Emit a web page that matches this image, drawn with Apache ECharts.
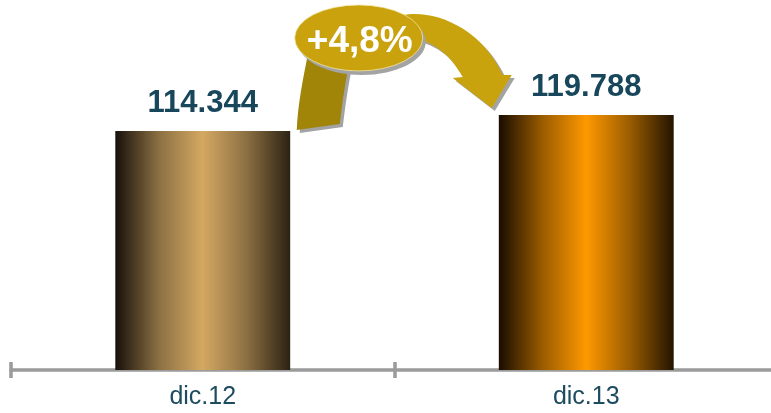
<!DOCTYPE html>
<html>
<head>
<meta charset="utf-8">
<script src="https://cdn.jsdelivr.net/npm/echarts@6/dist/echarts.min.js"></script>
<style>
  html, body { margin: 0; padding: 0; background: #fff; }
  #main { width: 771px; height: 413px; }
</style>
</head>
<body>
<div id="main"></div>
<script>
const categories = ['dic.12', 'dic.13'];
const values = [114344, 119788];

// cylinder-like shading per bar
const barGradients = [
  ['#17110a', '#8c7043', '#d4a862', '#8c7043', '#2c2213'],
  ['#190c00', '#9a5c00', '#ff9900', '#9a5c00', '#231300']
];

const fmt = v => String(v).replace(/\B(?=(\d{3})+(?!\d))/g, '.');
const growth = ((values[1] / values[0] - 1) * 100).toFixed(1).replace('.', ',');

// arrow pieces, local coords relative to the top centre of the first bar
const legPath = 'M94,-1 L137,-7 C140,-31 142,-46 147,-71 L105,-76 C100,-51 95,-26 94,-1 Z';
const arrowPath = 'M197,-115 C227,-123 277,-106 300,-56 L309,-56 L289,-23 L250,-53 L260,-54 C249,-73 237,-86 212,-93 Z';
echarts.graphic.registerShape('growthLeg', echarts.graphic.extendPath(legPath, {}));
echarts.graphic.registerShape('growthArrow', echarts.graphic.extendPath(arrowPath, {}));

const chart = echarts.init(document.getElementById('main'));

const tickStyle = { color: '#9b9b9b', width: 3.5 };

chart.setOption({
  animation: false,
  grid: { left: 11, right: -7, top: 10, bottom: 43, outerBoundsMode: 'none' },
  xAxis: [
    {
      type: 'category',
      data: categories,
      axisLine: { lineStyle: tickStyle },
      axisTick: { show: true, length: 8, lineStyle: tickStyle },
      axisLabel: { color: '#1d4b60', fontSize: 25, margin: 15, fontFamily: 'Liberation Sans, Arial' }
    },
    {
      // second axis only to get the tick marks above the line too
      type: 'category',
      data: categories,
      position: 'bottom',
      axisLine: { show: false },
      axisTick: { show: true, inside: true, length: 8, lineStyle: tickStyle },
      axisLabel: { show: false }
    }
  ],
  yAxis: { type: 'value', min: 33000, max: 155500, show: false },
  series: [{
    type: 'bar',
    barWidth: '45.6%',
    data: values.map((v, i) => ({
      value: v,
      itemStyle: {
        color: new echarts.graphic.LinearGradient(0, 0, 1, 0,
          barGradients[i].map((c, k) => ({ offset: k / 4, color: c })))
      }
    })),
    label: {
      show: true,
      position: 'top',
      distance: 12,
      formatter: p => fmt(p.value),
      fontSize: 31,
      fontWeight: 'bold',
      fontFamily: 'Liberation Sans, Arial',
      color: '#18475c'
    }
  }]
});

const o = chart.convertToPixel({ gridIndex: 0 }, [0, values[0]]);
const shadow = '#a3a3a3';

chart.setOption({
  graphic: [{
    type: 'group',
    x: o[0],
    y: o[1],
    children: [
      { type: 'growthLeg', x: 3, y: 3, style: { fill: shadow } },
      { type: 'growthLeg', style: { fill: '#a08509' } },
      { type: 'growthArrow', x: 3, y: 3, style: { fill: shadow } },
      { type: 'growthArrow', style: { fill: '#c8a30d' } },
      { type: 'circle', x: 159, y: -89, scaleY: 33 / 64, shape: { cx: 0, cy: 0, r: 64 }, style: { fill: shadow } },
      { type: 'circle', x: 156, y: -93, scaleY: 33 / 64, shape: { cx: 0, cy: 0, r: 64 }, style: { fill: '#c9a20e', stroke: '#f3e7a8', lineWidth: 1 } },
      {
        type: 'text', x: 157, y: -89,
        style: {
          text: '+' + growth + '%',
          fill: '#fff',
          font: 'bold 37px "Liberation Sans", Arial',
          align: 'center',
          verticalAlign: 'middle'
        }
      }
    ]
  }]
});
</script>
</body>
</html>
